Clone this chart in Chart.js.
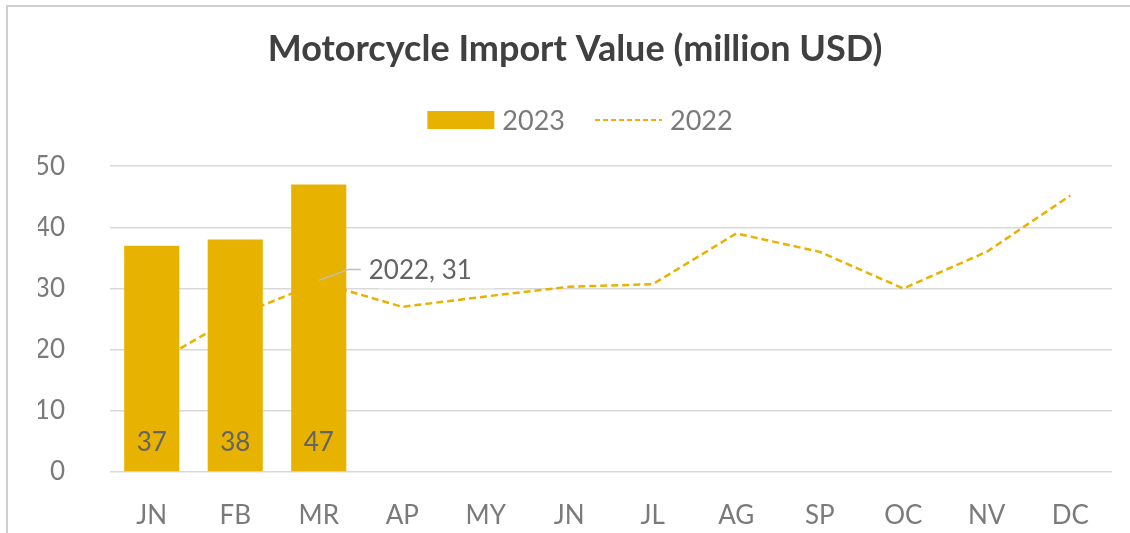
<!DOCTYPE html>
<html>
<head>
<meta charset="utf-8">
<title>Motorcycle Import Value</title>
<script src="https://cdn.jsdelivr.net/npm/chart.js@4/dist/chart.umd.min.js"></script>
<style>
    html, body { margin: 0; padding: 0; background: #fff; }
    #wrap { position: relative; width: 1130px; height: 533px; overflow: hidden; }
    #frame { position: absolute; left: 6px; top: 5px; width: 1140px; height: 540px; border: 2px solid #cfcfcf; }
    canvas { position: absolute; left: 0; top: 0; }
</style>
</head>
<body>
<div id="wrap">
    <div id="frame"></div>
    <canvas id="chart" width="1130" height="533"></canvas>
</div>
<script>
const months = ['JN', 'FB', 'MR', 'AP', 'MY', 'JN', 'JL', 'AG', 'SP', 'OC', 'NV', 'DC'];
const imports2023 = [37, 38, 47];
const imports2022 = [17.5, 25.4, 31, 27, 28.7, 30.3, 30.7, 39, 36, 30, 36, 45.2];
const yTickValues = [0, 10, 20, 30, 40, 50];
const calloutIndex = 2; // "2022, 31" label on MR

const gold = '#e8b200';
const axisGrey = '#7a7a7a';
const labelGrey = '#646464';
const fontFamily = 'Lato, "Open Sans", sans-serif';

Chart.defaults.font.family = fontFamily;
Chart.defaults.color = axisGrey;

// legend drawn by hand so the 2022 entry shows a dashed line
const legendPlugin = {
    id: 'customLegend',
    afterDraw(chart) {
        const ctx = chart.ctx;
        const y = 120;
        const sample = 67;
        ctx.save();
        ctx.font = `27px ${fontFamily}`;
        ctx.textBaseline = 'middle';
        const w1 = ctx.measureText('2023').width;
        const w2 = ctx.measureText('2022').width;
        const total = sample + 8 + w1 + 30 + sample + 8 + w2;
        let x = 580 - total / 2;

        ctx.fillStyle = gold;
        ctx.fillRect(x, y - 9, sample, 18);
        x += sample + 8;
        ctx.fillStyle = axisGrey;
        ctx.fillText('2023', x, y + 1);
        x += w1 + 30;

        ctx.strokeStyle = gold;
        ctx.lineWidth = 2;
        ctx.setLineDash([5, 3]);
        ctx.beginPath();
        ctx.moveTo(x, y);
        ctx.lineTo(x + sample, y);
        ctx.stroke();
        ctx.setLineDash([]);
        x += sample + 8;
        ctx.fillText('2022', x, y + 1);
        ctx.restore();
    }
};

// value labels at the bottom of the bars and the callout on the 2022 line
const labelPlugin = {
    id: 'valueLabels',
    afterDatasetsDraw(chart) {
        const ctx = chart.ctx;
        ctx.save();
        ctx.font = `26px ${fontFamily}`;
        ctx.fillStyle = labelGrey;
        ctx.textAlign = 'center';
        ctx.textBaseline = 'middle';

        const barMeta = chart.getDatasetMeta(0);
        barMeta.data.forEach((bar, i) => {
            ctx.fillText(String(imports2023[i]), bar.x, bar.base - 29);
        });

        const lineMeta = chart.getDatasetMeta(1);
        const pt = lineMeta.data[calloutIndex];
        const text = `${chart.data.datasets[1].label}, ${Math.round(imports2022[calloutIndex])}`;
        const tw = ctx.measureText(text).width;
        const lx = pt.x + 50;
        const ly = pt.y - 13;

        ctx.fillStyle = '#fff';
        ctx.fillRect(lx + 10, ly - 17, tw + 12, 36);

        ctx.strokeStyle = '#bfbfbf';
        ctx.lineWidth = 1.5;
        ctx.beginPath();
        ctx.moveTo(pt.x, pt.y - 2);
        ctx.lineTo(lx - 20, ly);
        ctx.lineTo(lx - 8, ly);
        ctx.stroke();

        ctx.fillStyle = labelGrey;
        ctx.textAlign = 'left';
        ctx.fillText(text, lx, ly + 1);
        ctx.restore();
    }
};

new Chart(document.getElementById('chart'), {
    type: 'bar',
    data: {
        labels: months,
        datasets: [
            {
                type: 'bar',
                label: '2023',
                data: imports2023,
                backgroundColor: gold,
                barPercentage: 0.66,
                categoryPercentage: 1,
                order: 1
            },
            {
                type: 'line',
                label: '2022',
                data: imports2022,
                borderColor: gold,
                borderWidth: 2.5,
                borderDash: [7, 4],
                pointRadius: 0,
                tension: 0,
                fill: false,
                order: 2
            }
        ]
    },
    options: {
        responsive: false,
        animation: false,
        devicePixelRatio: 1,
        layout: { padding: { top: 0, left: 38, right: 18, bottom: 4 } },
        plugins: {
            legend: { display: false },
            tooltip: { enabled: false },
            title: {
                display: true,
                text: 'Motorcycle Import Value (million USD)',
                color: '#404040',
                font: { size: 36, weight: 'bold', lineHeight: 1.2 },
                padding: { top: 28, bottom: 95 }
            }
        },
        scales: {
            x: {
                grid: { display: false, drawTicks: false },
                border: { display: false },
                afterFit(scale) { scale.height = 57; },
                ticks: { padding: 28, font: { size: 26 }, color: axisGrey, maxRotation: 0 }
            },
            y: {
                min: 0,
                max: 50,
                afterBuildTicks(scale) {
                    scale.ticks = yTickValues.map(v => ({ value: v }));
                },
                afterFit(scale) { scale.width = 72; },
                grid: { color: '#d9d9d9', lineWidth: 1.5, drawTicks: false },
                border: { display: false },
                ticks: { padding: 45, font: { size: 26 }, color: axisGrey }
            }
        }
    },
    plugins: [legendPlugin, labelPlugin]
});
</script>
</body>
</html>
